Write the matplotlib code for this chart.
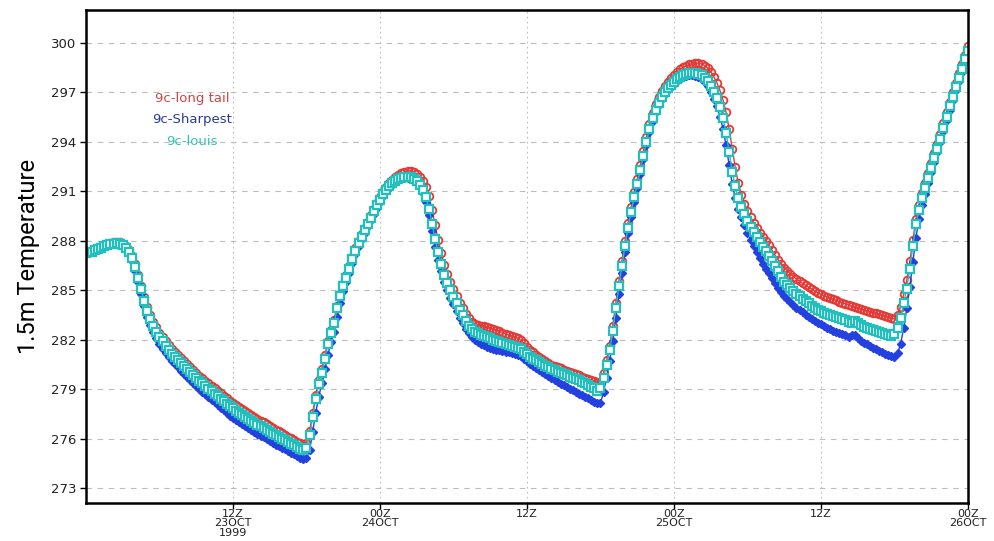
# 1.5m temperature, three 9c runs, 23-26 OCT 1999

# Import libraries ............................................................

import numpy as np
import matplotlib
matplotlib.use("Agg")
import matplotlib.pyplot as plt



# Data ........................................................................

# Time axis: hours since 00Z 23OCT1999, 15 minute steps
hours = np.arange(0, 72.01, 0.25)

# 9c-louis (cyan)
temp_louis = [
    287.25, 287.30, 287.35, 287.42, 287.50, 287.58, 287.66, 287.73,
    287.79, 287.83, 287.84, 287.80, 287.72, 287.58, 287.35, 286.95,
    286.40, 285.75, 285.05, 284.35, 283.75, 283.25, 282.85, 282.50,
    282.18, 281.90, 281.63, 281.38, 281.15, 280.96, 280.77, 280.58,
    280.40, 280.22, 280.04, 279.86, 279.69, 279.52, 279.36, 279.20,
    279.04, 278.88, 278.73, 278.58, 278.43, 278.28, 278.13, 277.98,
    277.84, 277.71, 277.58, 277.45, 277.33, 277.21, 277.09, 276.97,
    276.86, 276.75, 276.64, 276.53, 276.42, 276.31, 276.20, 276.10,
    276.00, 275.90, 275.80, 275.70, 275.60, 275.50, 275.40, 275.30,
    275.45, 276.20, 277.30, 278.40, 279.30, 280.00, 280.85, 281.75,
    282.40, 283.00, 283.90, 284.65, 285.25, 285.75, 286.30, 286.90,
    287.40, 287.85, 288.25, 288.65, 289.02, 289.40, 289.78, 290.15,
    290.50, 290.82, 291.10, 291.32, 291.48, 291.62, 291.73, 291.82,
    291.88, 291.90, 291.86, 291.76, 291.60, 291.38, 291.10, 290.65,
    289.95, 289.05, 288.10, 287.30, 286.60, 285.95, 285.45, 285.00,
    284.62, 284.22, 283.82, 283.48, 283.15, 282.85, 282.65, 282.50,
    282.40, 282.30, 282.22, 282.15, 282.08, 282.01, 281.94, 281.87,
    281.80, 281.74, 281.68, 281.63, 281.58, 281.52, 281.42, 281.28,
    281.12, 280.97, 280.86, 280.75, 280.64, 280.53, 280.43, 280.33,
    280.23, 280.15, 280.07, 279.99, 279.91, 279.84, 279.77, 279.70,
    279.63, 279.55, 279.46, 279.37, 279.27, 279.16, 279.05, 278.90,
    279.05, 279.70, 280.45, 281.35, 282.55, 283.90, 285.25, 286.50,
    287.70, 288.80, 289.75, 290.65, 291.45, 292.30, 293.15, 294.00,
    294.80, 295.45, 295.95, 296.35, 296.70, 297.00, 297.25, 297.45,
    297.65, 297.82, 297.95, 298.05, 298.13, 298.18, 298.20, 298.18,
    298.12, 298.03, 297.90, 297.70, 297.40, 297.05, 296.65, 296.10,
    295.45, 294.55, 293.40, 292.20, 291.30, 290.60, 290.05, 289.60,
    289.20, 288.85, 288.55, 288.25, 287.95, 287.65, 287.38, 287.10,
    286.80, 286.48, 286.15, 285.82, 285.52, 285.30, 285.12, 284.95,
    284.80, 284.65, 284.50, 284.35, 284.20, 284.05, 283.92, 283.80,
    283.72, 283.64, 283.56, 283.49, 283.42, 283.36, 283.30, 283.24,
    283.18, 283.10, 283.00, 283.12, 283.00, 282.88, 282.78, 282.70,
    282.63, 282.57, 282.51, 282.45, 282.40, 282.35, 282.30, 282.25,
    282.35, 282.70, 283.35, 284.20, 285.10, 286.30, 287.70, 289.00,
    289.90, 290.60, 291.20, 291.80, 292.40, 293.00, 293.60, 294.20,
    294.85, 295.50, 296.15, 296.75, 297.30, 297.85, 298.45, 299.00,
    299.50,
]

# 9c-long tail (red)
temp_long_tail = [
    287.30, 287.35, 287.40, 287.47, 287.55, 287.63, 287.71, 287.79,
    287.86, 287.91, 287.93, 287.90, 287.82, 287.68, 287.46, 287.08,
    286.58, 285.95, 285.27, 284.58, 283.98, 283.48, 283.08, 282.75,
    282.44, 282.17, 281.91, 281.67, 281.44, 281.25, 281.06, 280.88,
    280.70, 280.52, 280.34, 280.17, 280.00, 279.83, 279.67, 279.51,
    279.37, 279.21, 279.06, 278.91, 278.76, 278.61, 278.46, 278.31,
    278.19, 278.06, 277.93, 277.80, 277.68, 277.56, 277.44, 277.32,
    277.21, 277.10, 276.99, 276.88, 276.77, 276.66, 276.55, 276.45,
    276.33, 276.23, 276.12, 276.02, 275.91, 275.81, 275.71, 275.60,
    275.75, 276.45, 277.55, 278.65, 279.55, 280.25, 281.05, 281.95,
    282.60, 283.20, 284.05, 284.80, 285.40, 285.90, 286.45, 287.05,
    287.55, 288.00, 288.40, 288.80, 289.17, 289.55, 289.93, 290.30,
    290.66, 290.99, 291.29, 291.53, 291.71, 291.87, 292.00, 292.11,
    292.19, 292.24, 292.24, 292.18, 292.06, 291.88, 291.64, 291.28,
    290.70, 289.90, 288.95, 288.05, 287.25, 286.55, 285.98, 285.50,
    285.08, 284.66, 284.25, 283.90, 283.58, 283.30, 283.10, 282.98,
    282.92, 282.86, 282.82, 282.78, 282.72, 282.66, 282.60, 282.53,
    282.44, 282.36, 282.28, 282.22, 282.17, 282.10, 281.96, 281.78,
    281.58, 281.40, 281.25, 281.10, 280.96, 280.83, 280.71, 280.60,
    280.48, 280.40, 280.33, 280.26, 280.19, 280.12, 280.05, 279.98,
    279.91, 279.84, 279.77, 279.70, 279.63, 279.56, 279.49, 279.42,
    279.45, 280.00, 280.75, 281.65, 282.85, 284.20, 285.55, 286.80,
    288.00, 289.10, 290.05, 290.95, 291.75, 292.60, 293.45, 294.30,
    295.10, 295.75, 296.28, 296.70, 297.07, 297.38, 297.65, 297.88,
    298.08, 298.25, 298.40, 298.52, 298.62, 298.70, 298.75, 298.78,
    298.78, 298.73, 298.63, 298.48, 298.25, 297.95, 297.58, 297.12,
    296.55, 295.80, 294.80, 293.60, 292.45, 291.50, 290.80, 290.25,
    289.80, 289.42, 289.08, 288.78, 288.50, 288.25, 288.00, 287.72,
    287.42, 287.12, 286.85, 286.60, 286.38, 286.18, 286.00, 285.83,
    285.68, 285.55, 285.42, 285.30, 285.18, 285.06, 284.95, 284.85,
    284.76, 284.68, 284.60, 284.53, 284.46, 284.39, 284.32, 284.25,
    284.18, 284.11, 284.04, 283.98, 283.92, 283.86, 283.80, 283.75,
    283.70, 283.65, 283.60, 283.55, 283.50, 283.45, 283.40, 283.35,
    283.25, 283.50, 284.00, 284.75, 285.60, 286.75, 288.05, 289.30,
    290.20, 290.90, 291.50, 292.10, 292.70, 293.30, 293.90, 294.50,
    295.15, 295.80, 296.45, 297.05, 297.60, 298.15, 298.75, 299.30,
    299.80,
]

# 9c-Sharpest (blue)
temp_sharpest = [
    287.20, 287.25, 287.30, 287.37, 287.45, 287.53, 287.61, 287.68,
    287.74, 287.78, 287.79, 287.75, 287.66, 287.50, 287.24, 286.80,
    286.20, 285.50, 284.75, 284.02, 283.40, 282.88, 282.45, 282.08,
    281.75, 281.46, 281.19, 280.94, 280.70, 280.51, 280.32, 280.13,
    279.93, 279.74, 279.56, 279.37, 279.19, 279.02, 278.86, 278.70,
    278.52, 278.36, 278.20, 278.04, 277.88, 277.72, 277.56, 277.40,
    277.26, 277.13, 277.00, 276.87, 276.75, 276.63, 276.51, 276.39,
    276.30, 276.19, 276.08, 275.97, 275.86, 275.75, 275.64, 275.54,
    275.45, 275.35, 275.25, 275.15, 275.05, 274.95, 274.85, 274.76,
    274.80, 275.30, 276.40, 277.55, 278.55, 279.35, 280.20, 281.10,
    281.85, 282.50, 283.40, 284.25, 284.95, 285.50, 286.05, 286.65,
    287.20, 287.68, 288.10, 288.50, 288.88, 289.26, 289.64, 290.02,
    290.38, 290.72, 291.00, 291.22, 291.40, 291.55, 291.67, 291.76,
    291.82, 291.84, 291.80, 291.68, 291.50, 291.25, 290.90, 290.35,
    289.55, 288.60, 287.65, 286.85, 286.15, 285.50, 285.00, 284.55,
    284.15, 283.75, 283.35, 283.00, 282.68, 282.40, 282.18, 282.00,
    281.86, 281.75, 281.66, 281.59, 281.52, 281.46, 281.40, 281.35,
    281.31, 281.27, 281.23, 281.20, 281.16, 281.10, 281.00, 280.86,
    280.70, 280.55, 280.41, 280.28, 280.15, 280.02, 279.90, 279.78,
    279.66, 279.55, 279.44, 279.34, 279.24, 279.14, 279.04, 278.94,
    278.84, 278.74, 278.64, 278.54, 278.44, 278.34, 278.24, 278.15,
    278.15, 278.85, 279.70, 280.70, 281.95, 283.35, 284.75, 286.05,
    287.30, 288.45, 289.45, 290.38, 291.22, 292.08, 292.95, 293.80,
    294.62, 295.28, 295.80, 296.22, 296.58, 296.88, 297.13, 297.34,
    297.54, 297.70, 297.82, 297.92, 297.99, 298.03, 298.04, 298.01,
    297.93, 297.81, 297.63, 297.38, 297.03, 296.62, 296.15, 295.52,
    294.80, 293.80, 292.60, 291.45, 290.60, 289.95, 289.42, 288.95,
    288.50, 288.08, 287.68, 287.30, 286.95, 286.62, 286.32, 286.02,
    285.72, 285.42, 285.15, 284.90, 284.67, 284.46, 284.27, 284.10,
    283.95, 283.80, 283.66, 283.52, 283.39, 283.26, 283.14, 283.03,
    282.93, 282.83, 282.74, 282.65, 282.56, 282.48, 282.40, 282.33,
    282.26, 282.19, 282.30, 282.28, 282.10, 281.95, 281.83, 281.72,
    281.62, 281.52, 281.43, 281.34, 281.25, 281.16, 281.08, 281.00,
    280.95, 281.20, 281.75, 282.70, 283.90, 285.20, 286.70, 288.20,
    289.30, 290.15, 290.85, 291.50, 292.15, 292.78, 293.40, 294.02,
    294.65, 295.30, 295.95, 296.55, 297.12, 297.68, 298.25, 298.80,
    299.35,
]

# Axis ticks
y_ticks = [273, 276, 279, 282, 285, 288, 291, 294, 297, 300]
x_ticks = [12, 24, 36, 48, 60, 72]
x_tick_labels = ["12Z\n23OCT\n1999", "00Z\n24OCT", "12Z", "00Z\n25OCT", "12Z", "00Z\n26OCT"]

series_names = ["9c-long tail", "9c-Sharpest", "9c-louis"]
series_colors = ["#e53935", "#2340e0", "#22c0bc"]
text_colors = ["#cc4444", "#2a3a9c", "#30c2b2"]



# Plot ........................................................................

fig = plt.figure(figsize = (9.95, 5.41), dpi = 100)
ax = fig.add_axes([86 / 995, 38 / 541, 882 / 995, 493 / 541])

# red circles, blue filled diamonds, cyan squares on top
ax.plot(hours, temp_long_tail, color = series_colors[0], lw = 1.0,
        marker = "o", ms = 5.5, mfc = "none", mec = series_colors[0], mew = 1.3)
ax.plot(hours, temp_sharpest, color = series_colors[1], lw = 1.0,
        marker = "D", ms = 4.2, mfc = series_colors[1], mec = series_colors[1], mew = 1.0)
ax.plot(hours, temp_louis, color = series_colors[2], lw = 1.0,
        marker = "s", ms = 5.2, mfc = "white", mec = series_colors[2], mew = 1.6)

ax.set_xlim(0, 72)
ax.set_ylim(272.1, 302.0)

ax.set_yticks(y_ticks)
ax.set_xticks(x_ticks)
ax.set_xticklabels(x_tick_labels, linespacing = 0.9)

# grid: dashed across, dotted up
for yv in y_ticks:
    ax.axhline(yv, color = "#bdbdbd", lw = 0.8, ls = (0, (5, 5)), zorder = 0)
for xv in x_ticks:
    ax.axvline(xv, color = "#bdbdbd", lw = 0.8, ls = (0, (1.5, 3)), zorder = 0)

for side in ax.spines.values():
    side.set_linewidth(1.8)
    side.set_color("black")

ax.tick_params(axis = "y", direction = "out", length = 4, width = 1.0,
               labelsize = 9.5, labelcolor = "#222222", pad = 3)
ax.tick_params(axis = "x", direction = "out", length = 4, width = 1.0,
               labelsize = 8, labelcolor = "#222222", pad = 0.5)

ax.set_ylabel("1.5m Temperature", fontsize = 17,
              family = ["Roboto", "DejaVu Sans"], labelpad = 8)

# legend text (coloured labels inside the plot)
label_y = [0.821, 0.777, 0.734]
for name, col, yy in zip(series_names, text_colors, label_y):
    ax.text(0.12, yy, name, color = col, fontsize = 9.5, ha = "center", va = "center",
            transform = ax.transAxes)

fig.savefig("out.png", dpi = 100)
